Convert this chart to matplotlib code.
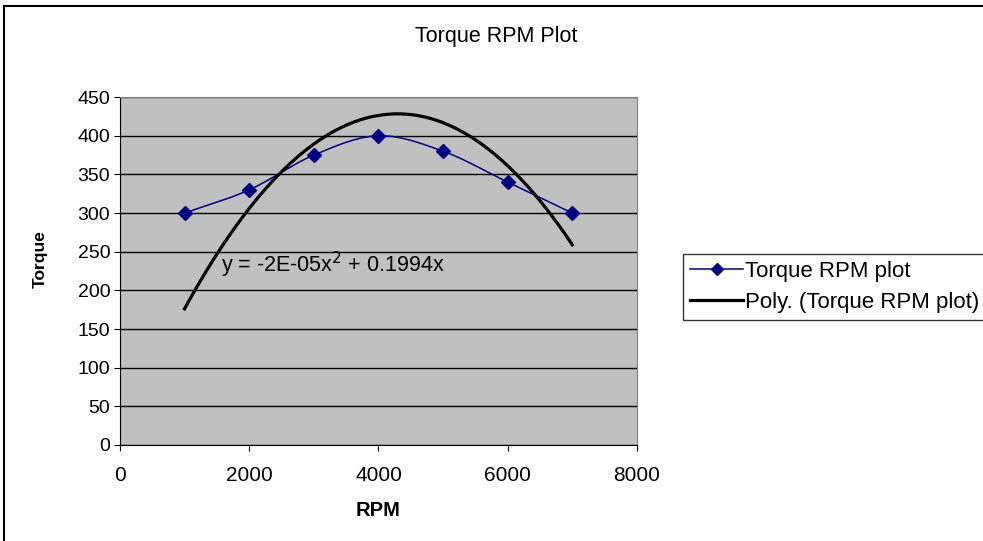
import numpy as np
import matplotlib.pyplot as plt
from matplotlib.patches import Rectangle

# data
rpm = [1000, 2000, 3000, 4000, 5000, 6000, 7000]
torque = [300, 330, 375, 400, 380, 340, 300]
series_name = "Torque RPM plot"
trend_name = "Poly. (Torque RPM plot)"
x_ticks = [0, 2000, 4000, 6000, 8000]
y_ticks = [0, 50, 100, 150, 200, 250, 300, 350, 400, 450]

plt.rcParams["font.family"] = ["Liberation Sans", "DejaVu Sans"]


def smooth_line(xs, ys, n=30):
    # Catmull-Rom style smoothing, close to the spreadsheet "smoothed line"
    xs = np.asarray(xs, float)
    ys = np.asarray(ys, float)
    px = np.concatenate([[2 * xs[0] - xs[1]], xs, [2 * xs[-1] - xs[-2]]])
    py = np.concatenate([[2 * ys[0] - ys[1]], ys, [2 * ys[-1] - ys[-2]]])
    ox, oy = [], []
    t = np.linspace(0, 1, n)
    for i in range(1, len(px) - 2):
        for p, out in ((px, ox), (py, oy)):
            p0, p1, p2, p3 = p[i - 1], p[i], p[i + 1], p[i + 2]
            out.extend(0.5 * ((2 * p1) + (-p0 + p2) * t
                              + (2 * p0 - 5 * p1 + 4 * p2 - p3) * t ** 2
                              + (-p0 + 3 * p1 - 3 * p2 + p3) * t ** 3))
    return np.array(ox), np.array(oy)


# 2nd order trend through the origin
x = np.array(rpm, float)
y = np.array(torque, float)
coef, *_ = np.linalg.lstsq(np.column_stack([x ** 2, x]), y, rcond=None)
xt = np.linspace(x.min(), x.max(), 200)
yt = coef[0] * xt ** 2 + coef[1] * xt

fig = plt.figure(figsize=(9.83, 5.41), dpi=100)
ax = fig.add_axes([0.122, 0.1775, 0.526, 0.643])
ax.set_facecolor("#C0C0C0")

sx, sy = smooth_line(rpm, torque)
ax.plot(sx, sy, color="#000080", lw=1.1, zorder=3)
ax.plot(rpm, torque, ls="none", marker="D", ms=7, color="#000080", zorder=4)
ax.plot(xt, yt, color="black", lw=2.3, zorder=3)

ax.text(1560, 233, r"y = -2E-05x$^2$ + 0.1994x", fontsize=15.5, va="center")

ax.set_xlim(0, 8000)
ax.set_ylim(0, 450)
ax.set_xticks(x_ticks)
ax.set_yticks(y_ticks)
ax.tick_params(length=4, color="black")
ax.tick_params(axis="y", labelsize=14, pad=3)
ax.tick_params(axis="x", labelsize=15, pad=11)
ax.grid(axis="y", color="black", lw=1)
ax.set_axisbelow(True)
for s in ("top", "right"):
    ax.spines[s].set_color("#808080")
ax.spines["left"].set_color("black")
ax.spines["bottom"].set_color("black")

ax.set_xlabel("RPM", fontsize=14.5, fontweight="bold", labelpad=12)
ax.set_ylabel("Torque", fontsize=12.5, fontweight="bold")
ax.yaxis.set_label_coords(-0.14, 0.535)
fig.text(0.505, 0.932, "Torque RPM Plot", ha="center", va="center", fontsize=15.5)

h1, = ax.plot([], [], color="#000080", lw=1.1, marker="D", ms=6)
h2, = ax.plot([], [], color="black", lw=2.3)
leg = fig.legend([h1, h2], [series_name, trend_name], loc="upper left",
                 bbox_to_anchor=(0.695, 0.53), fontsize=16, frameon=True,
                 fancybox=False, edgecolor="black", handlelength=2.4,
                 handletextpad=0.1, borderpad=0.3, labelspacing=0.45,
                 borderaxespad=0)
leg.get_frame().set_linewidth(1)

fig.patches.append(Rectangle((0.004, -0.02), 1.1, 1.009, transform=fig.transFigure,
                             fill=False, edgecolor="black", lw=1.5))

fig.savefig("out.png", dpi=100)
